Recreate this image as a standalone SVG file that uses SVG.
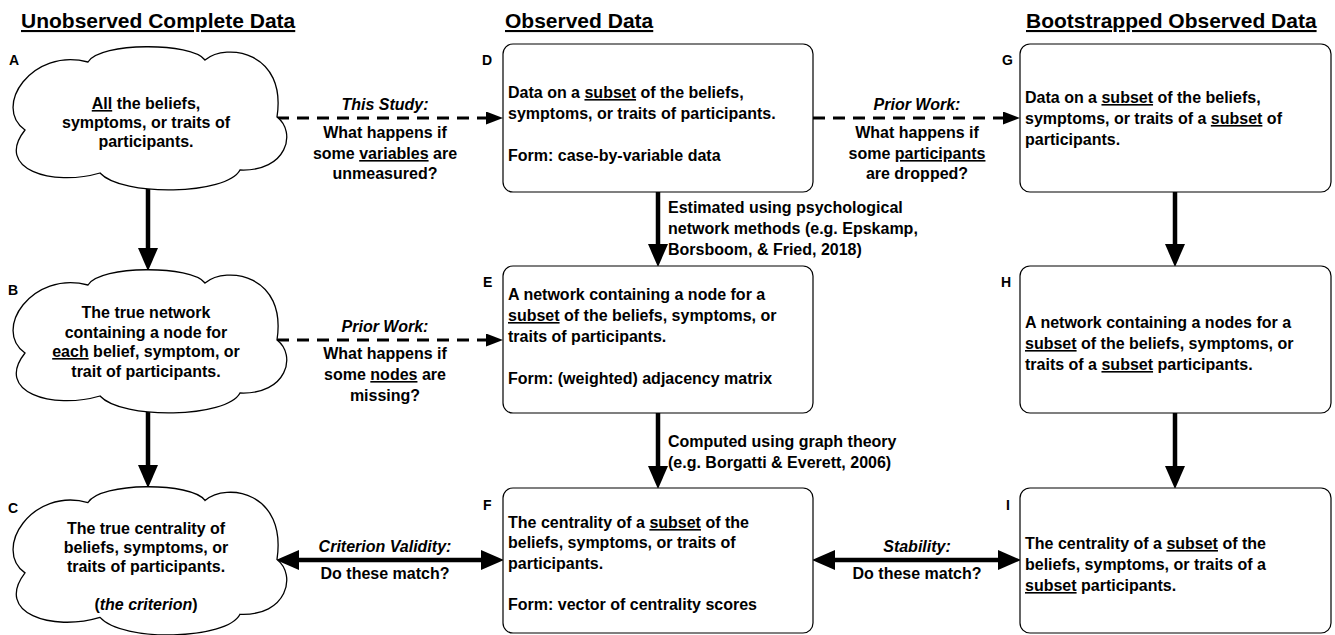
<svg xmlns="http://www.w3.org/2000/svg" width="1335" height="635" viewBox="0 0 1335 635">
<style>
.t{font-family:"Liberation Sans",Arial,Helvetica,sans-serif;font-weight:bold;font-size:16px;fill:#000}
.c{text-anchor:middle}
.title{font-size:21px;text-decoration:underline}
.lab{font-size:14px}
.u{text-decoration:underline}
.i{font-style:italic}
.box{fill:#fff;stroke:#000;stroke-width:1.2}
.cloud{fill:#fff;stroke:#000;stroke-width:1.3}
.solid{fill:none;stroke:#000;stroke-width:4.5}
.dash{fill:none;stroke:#000;stroke-width:3;stroke-dasharray:12 8}
</style>
<defs>
<path id="cloudShape" d="M 76 15 C 88 -5, 180 -5, 193 13 C 215 -5, 275 5, 265 70 C 285 85, 275 125, 228 123 C 215 148, 110 150, 88 126 C 40 140, -18 122, 13 83 C -20 60, 20 0, 76 15 Z"/>
<marker id="big" viewBox="0 0 23 20" refX="12" refY="10" markerWidth="23" markerHeight="20" markerUnits="userSpaceOnUse" orient="auto-start-reverse"><path d="M0,0 L23,10 L0,20 Z" fill="#000"/></marker>
<marker id="small" viewBox="0 0 17 13" refX="7" refY="6.5" markerWidth="17" markerHeight="13" markerUnits="userSpaceOnUse" orient="auto"><path d="M0,0 L17,6.5 L0,13 Z" fill="#000"/></marker>
</defs>
<rect width="1335" height="635" fill="#fff"/>

<g id="titles" class="t title">
<text x="21" y="28">Unobserved Complete Data</text>
<text x="505" y="28">Observed Data</text>
<text x="1026" y="28">Bootstrapped Observed Data</text>
</g>

<g id="connectors">
<line class="solid" x1="148" y1="188" x2="148" y2="260" marker-end="url(#big)"/>
<line class="solid" x1="148" y1="410" x2="148" y2="477" marker-end="url(#big)"/>
<line class="solid" x1="658" y1="192" x2="658" y2="256" marker-end="url(#big)"/>
<line class="solid" x1="658" y1="413" x2="658" y2="478" marker-end="url(#big)"/>
<line class="solid" x1="1175" y1="192" x2="1175" y2="256" marker-end="url(#big)"/>
<line class="solid" x1="1175" y1="413" x2="1175" y2="478" marker-end="url(#big)"/>
<line class="dash" x1="277" y1="118" x2="493" y2="118" marker-end="url(#small)"/>
<line class="dash" x1="277" y1="340" x2="493" y2="340" marker-end="url(#small)"/>
<line class="dash" x1="813" y1="118" x2="1010" y2="118" marker-end="url(#small)"/>
<line class="solid" x1="287" y1="560" x2="493" y2="560" marker-start="url(#big)" marker-end="url(#big)"/>
<line class="solid" x1="823" y1="560" x2="1010" y2="560" marker-start="url(#big)" marker-end="url(#big)"/>

<g class="t c">
<text x="385" y="110" class="i">This Study:</text>
<text x="385" y="138">What happens if</text>
<text x="385" y="159">some <tspan class="u">variables</tspan> are</text>
<text x="385" y="179">unmeasured?</text>

<text x="385" y="332" class="i">Prior Work:</text>
<text x="385" y="359">What happens if</text>
<text x="385" y="380">some <tspan class="u">nodes</tspan> are</text>
<text x="385" y="401">missing?</text>

<text x="917" y="110" class="i">Prior Work:</text>
<text x="917" y="138">What happens if</text>
<text x="917" y="159">some <tspan class="u">participants</tspan></text>
<text x="917" y="179">are dropped?</text>

<text x="385" y="552" class="i">Criterion Validity:</text>
<text x="385" y="579">Do these match?</text>

<text x="917" y="552" class="i">Stability:</text>
<text x="917" y="579">Do these match?</text>
</g>
<g class="t">
<text x="668" y="213">Estimated using psychological</text>
<text x="668" y="234">network methods (e.g. Epskamp,</text>
<text x="668" y="255">Borsboom, &amp; Fried, 2018)</text>
<text x="668" y="447">Computed using graph theory</text>
<text x="668" y="468">(e.g. Borgatti &amp; Everett, 2006)</text>
</g>
</g>

<g id="nodeA">
<use href="#cloudShape" class="cloud" transform="translate(12,47)"/>
<text class="t lab" x="9" y="65">A</text>
<g class="t c">
<text x="146" y="109"><tspan class="u">All</tspan> the beliefs,</text>
<text x="146" y="128">symptoms, or traits of</text>
<text x="146" y="147">participants.</text>
</g>
</g>

<g id="nodeB">
<use href="#cloudShape" class="cloud" transform="translate(12,270)"/>
<text class="t lab" x="8" y="295">B</text>
<g class="t c">
<text x="146" y="318">The true network</text>
<text x="146" y="337.5">containing a node for</text>
<text x="146" y="357"><tspan class="u">each</tspan> belief, symptom, or</text>
<text x="146" y="376.5">trait of participants.</text>
</g>
</g>

<g id="nodeC">
<use href="#cloudShape" class="cloud" transform="translate(12,487) scale(1,1.035)" style="vector-effect:non-scaling-stroke"/>
<text class="t lab" x="8" y="513">C</text>
<g class="t c">
<text x="146" y="534">The true centrality of</text>
<text x="146" y="553">beliefs, symptoms, or</text>
<text x="146" y="572">traits of participants.</text>
<text x="146" y="610">(<tspan class="i">the criterion</tspan>)</text>
</g>
</g>

<g id="nodeD">
<rect class="box" x="503" y="44" width="310" height="148" rx="10"/>
<text class="t lab" x="482" y="65">D</text>
<g class="t">
<text x="508" y="98">Data on a <tspan class="u">subset</tspan> of the beliefs,</text>
<text x="508" y="119">symptoms, or traits of participants.</text>
<text x="508" y="161">Form: case-by-variable data</text>
</g>
</g>

<g id="nodeE">
<rect class="box" x="503" y="266" width="310" height="147" rx="10"/>
<text class="t lab" x="483" y="287">E</text>
<g class="t">
<text x="508" y="300">A network containing a node for a</text>
<text x="508" y="321"><tspan class="u">subset</tspan> of the beliefs, symptoms, or</text>
<text x="508" y="342">traits of participants.</text>
<text x="508" y="384">Form: (weighted) adjacency matrix</text>
</g>
</g>

<g id="nodeF">
<rect class="box" x="503" y="488" width="310" height="145" rx="10"/>
<text class="t lab" x="483" y="510">F</text>
<g class="t">
<text x="508" y="528">The centrality of a <tspan class="u">subset</tspan> of the</text>
<text x="508" y="548">beliefs, symptoms, or traits of</text>
<text x="508" y="569">participants.</text>
<text x="508" y="610">Form: vector of centrality scores</text>
</g>
</g>

<g id="nodeG">
<rect class="box" x="1020" y="44" width="311" height="148" rx="10"/>
<text class="t lab" x="1002" y="65">G</text>
<g class="t">
<text x="1025" y="103">Data on a <tspan class="u">subset</tspan> of the beliefs,</text>
<text x="1025" y="124">symptoms, or traits of a <tspan class="u">subset</tspan> of</text>
<text x="1025" y="145">participants.</text>
</g>
</g>

<g id="nodeH">
<rect class="box" x="1020" y="266" width="311" height="147" rx="10"/>
<text class="t lab" x="1001" y="287">H</text>
<g class="t">
<text x="1025" y="328">A network containing a nodes for a</text>
<text x="1025" y="349"><tspan class="u">subset</tspan> of the beliefs, symptoms, or</text>
<text x="1025" y="370">traits of a <tspan class="u">subset</tspan> participants.</text>
</g>
</g>

<g id="nodeI">
<rect class="box" x="1020" y="488" width="311" height="145" rx="10"/>
<text class="t lab" x="1006" y="510">I</text>
<g class="t">
<text x="1025" y="549">The centrality of a <tspan class="u">subset</tspan> of the</text>
<text x="1025" y="570">beliefs, symptoms, or traits of a</text>
<text x="1025" y="591"><tspan class="u">subset</tspan> participants.</text>
</g>
</g>
</svg>
